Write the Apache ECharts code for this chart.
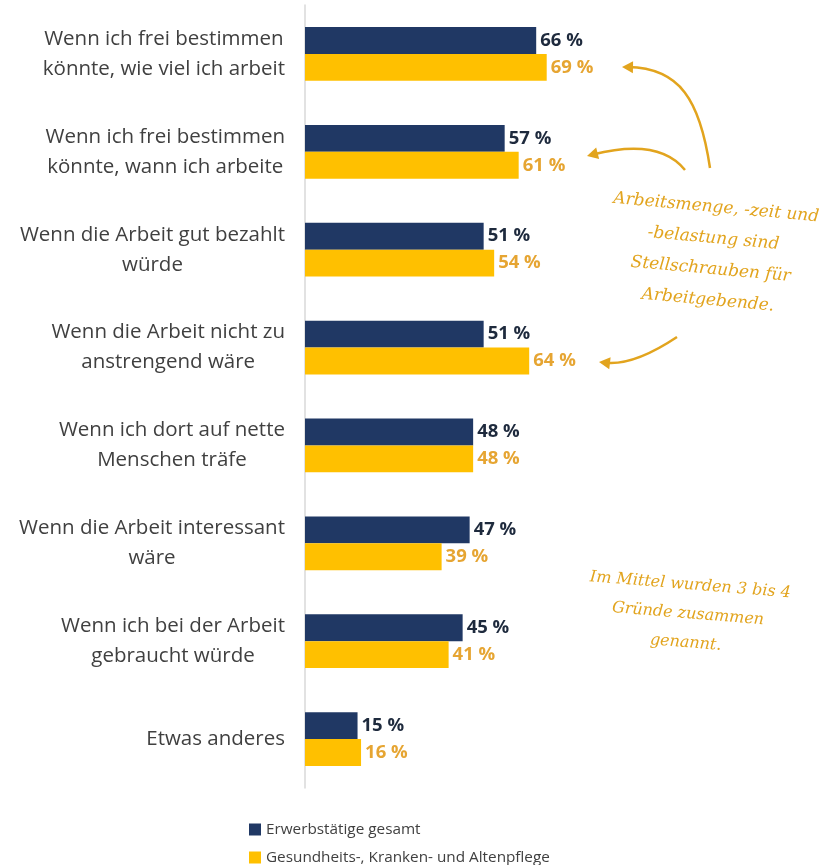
<!DOCTYPE html>
<html><head><meta charset="utf-8">
<script src="https://cdn.jsdelivr.net/npm/echarts@6/dist/echarts.min.js"></script>
<style>html,body{margin:0;padding:0;background:#fff}#c{width:820px;height:865px}</style>
</head><body><div id="c"></div>
<script>
var categories = [
  "Wenn ich frei bestimmen\nkönnte, wie viel ich arbeit",
  "Wenn ich frei bestimmen\nkönnte, wann ich arbeite",
  "Wenn die Arbeit gut bezahlt\nwürde",
  "Wenn die Arbeit nicht zu\nanstrengend wäre",
  "Wenn ich dort auf nette\nMenschen träfe",
  "Wenn die Arbeit interessant\nwäre",
  "Wenn ich bei der Arbeit\ngebraucht würde",
  "Etwas anderes"
];
var seriesNames = ["Erwerbstätige gesamt", "Gesundheits-, Kranken- und Altenpflege"];
var gesamt = [66, 57, 51, 51, 48, 47, 45, 15];
var pflege = [69, 61, 54, 64, 48, 39, 41, 16];
var note1 = ["Arbeitsmenge, -zeit und", "-belastung sind", "Stellschrauben für", "Arbeitgebende."];
var note2 = ["Im Mittel wurden 3 bis 4", "Gründe zusammen", "genannt."];

var NAVY = '#203864', GOLD = '#ffc000', GOLDTXT = '#e6a532', NOTE = '#e2a41e';
var chart = echarts.init(document.getElementById('c'), null, {renderer: 'canvas'});

function arrow(x0, y0, c1x, c1y, c2x, c2y, x1, y1) {
  var dx = x1 - c2x, dy = y1 - c2y, L = Math.sqrt(dx*dx + dy*dy);
  dx /= L; dy /= L;
  var bx = x1 - dx*11, by = y1 - dy*11, px = -dy*6, py = dx*6;
  var sx = x1 - dx*6, sy = y1 - dy*6;
  return [
    {type: 'bezierCurve', shape: {x1: x0, y1: y0, cpx1: c1x, cpy1: c1y, cpx2: c2x, cpy2: c2y, x2: sx, y2: sy},
     style: {stroke: NOTE, lineWidth: 2.5, fill: null}, z: 10},
    {type: 'polygon', shape: {points: [[x1, y1], [bx + px, by + py], [bx - px, by - py]]},
     style: {fill: NOTE}, z: 10}
  ];
}
function noteText(lines, cx, cy, lh, rot, size) {
  return {
    type: 'text', x: cx, y: cy, rotation: rot, z: 10,
    style: {text: lines.join('\n'), fill: NOTE, font: 'italic ' + size + 'px "DejaVu Serif"',
            textAlign: 'center', textVerticalAlign: 'middle', lineHeight: lh}
  };
}

var graphics = [].concat(
  arrow(710, 168, 700, 100, 680, 68, 622, 67),
  arrow(685, 170, 665, 145, 630, 145, 587, 156),
  arrow(677, 337, 650, 355, 625, 365, 599, 362),
  [noteText(note1, 712, 254, 31, -0.09, 17), noteText(note2, 688, 614, 29, -0.08, 16)]
);

chart.setOption({
  animation: false,
  textStyle: {fontFamily: '"Open Sans", sans-serif'},
  grid: {left: 305, top: 5, width: 350.3, height: 783, containLabel: false},
  xAxis: {type: 'value', min: 0, max: 100, show: false, splitLine: {show: false}},
  yAxis: {
    type: 'category', inverse: true, data: categories,
    axisLine: {lineStyle: {color: '#d9d9d9', width: 1.5}},
    axisTick: {show: false},
    axisLabel: {
      margin: 20, align: 'right', color: '#404040', fontSize: 20.5, lineHeight: 30,
      formatter: function (v) {
        return v.split('\n').map(function (s) { return '{c|' + s + '}'; }).join('\n');
      },
      rich: {c: {align: 'center', fontSize: 20.5, lineHeight: 30, color: '#404040', fontFamily: '"Open Sans", sans-serif'}}
    }
  },
  legend: {
    orient: 'vertical', left: 244, top: 817, height: 60, itemWidth: 12, itemHeight: 12, itemGap: 13,
    icon: 'rect', textStyle: {color: '#404040', fontSize: 15.3, fontFamily: '"Open Sans", sans-serif'},
    data: seriesNames
  },
  series: [
    {name: seriesNames[0], type: 'bar', data: gesamt, barGap: '0%', barCategoryGap: '45%',
     itemStyle: {color: NAVY},
     label: {show: true, position: 'right', distance: 4, formatter: '{c} %', color: '#1e2a3d',
             fontWeight: 'bold', fontSize: 18.5}},
    {name: seriesNames[1], type: 'bar', data: pflege, barGap: '0%', barCategoryGap: '45%',
     itemStyle: {color: GOLD},
     label: {show: true, position: 'right', distance: 4, formatter: '{c} %', color: GOLDTXT,
             fontWeight: 'bold', fontSize: 18.5}}
  ],
  graphic: graphics
});
</script></body></html>
